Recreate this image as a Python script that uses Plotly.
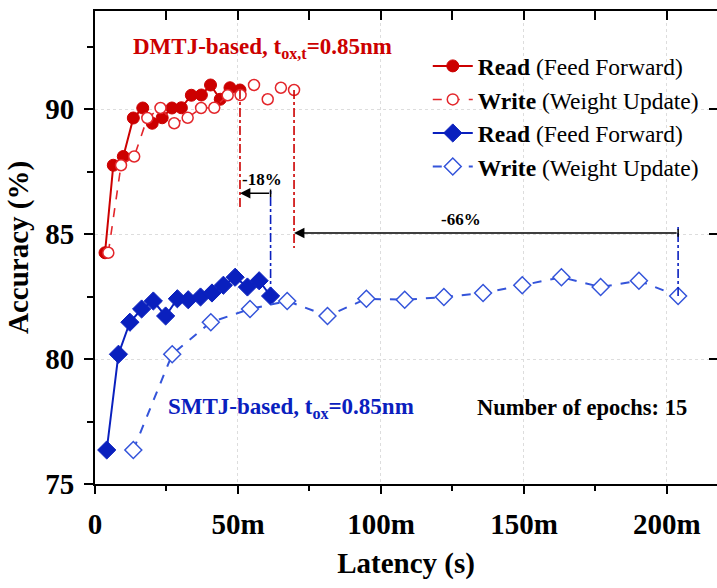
import plotly.graph_objects as go

# Accuracy per epoch (%), shared by read and write latency traces of the same device
dmtj_acc = [84.25, 87.75, 88.10, 89.64, 90.04, 89.43, 89.65, 90.04, 90.05, 90.55,
            90.56, 90.96, 90.39, 90.85, 90.76]
smtj_acc = [76.36, 80.19, 81.47, 82.00, 82.32, 81.72, 82.41, 82.37, 82.48, 82.64,
            82.95, 83.27, 82.88, 83.13, 82.52]

# Cumulative latency after each epoch (ms)
dmtj_read_lat = [3.5, 6.4, 9.9, 13.4, 16.7, 20.0, 23.5, 26.9, 30.2, 33.7,
                 37.2, 40.4, 43.8, 47.2, 50.7]
dmtj_write_lat = [4.65, 9.1, 13.7, 18.3, 22.9, 27.7, 32.4, 37.1, 41.7, 46.4,
                  50.9, 55.6, 60.4, 65.0, 69.6]
smtj_read_lat = [4.1, 8.2, 12.2, 16.3, 20.4, 24.7, 28.8, 32.6, 36.9, 40.9,
                 44.9, 49.0, 53.3, 57.4, 61.4]
smtj_write_lat = [13.4, 27.0, 40.5, 54.2, 67.2, 81.3, 94.9, 108.3, 122.0, 135.7,
                  149.4, 163.1, 176.8, 190.2, 203.9]

x_tickvals = [0, 50, 100, 150, 200]
x_ticktext = ["0", "50m", "100m", "150m", "200m"]
y_tickvals = [75, 80, 85, 90]

# Latency reduction labels
reduction_labels = ["-18%", "-66%"]

# Far ends of the dash-dot guides and heights of the comparison arrows
guide_end = {"dmtj_read": 86.0, "dmtj_write": 84.44, "smtj_read": 86.84, "smtj_write": 85.36}
arrow_y_read = 86.63
arrow_y_write = 85.04

RED = "#CC0000"
RED_W = "#E3262B"
BLUE = "#0A20BE"
BLUE_W = "#3454DA"
FONT = "Liberation Serif, Times New Roman, serif"

fig = go.Figure()

fig.add_trace(go.Scatter(
    x=dmtj_read_lat, y=dmtj_acc, mode="lines+markers",
    name="<b>Read</b> (Feed Forward)",
    line=dict(color=RED, width=2),
    marker=dict(symbol="circle", size=12, color=RED, line=dict(color=RED, width=1)),
))
fig.add_trace(go.Scatter(
    x=dmtj_write_lat, y=dmtj_acc, mode="lines+markers",
    name="<b>Write</b> (Weight Update)",
    line=dict(color=RED_W, width=1.6, dash="dash"),
    marker=dict(symbol="circle", size=11, color="white", line=dict(color=RED_W, width=1.5)),
))
fig.add_trace(go.Scatter(
    x=smtj_read_lat, y=smtj_acc, mode="lines+markers",
    name="<b>Read</b> (Feed Forward)",
    line=dict(color=BLUE, width=2),
    marker=dict(symbol="diamond", size=14, color=BLUE, line=dict(color=BLUE, width=1)),
))
fig.add_trace(go.Scatter(
    x=smtj_write_lat, y=smtj_acc, mode="lines+markers",
    name="<b>Write</b> (Weight Update)",
    line=dict(color=BLUE_W, width=2, dash="dash"),
    marker=dict(symbol="diamond", size=13, color="white", line=dict(color=BLUE_W, width=1.5)),
))

# Dash-dot guides dropped from the final epoch of each trace
guides = [
    (dmtj_read_lat[-1], dmtj_acc[-1], guide_end["dmtj_read"], RED),
    (dmtj_write_lat[-1], dmtj_acc[-1], guide_end["dmtj_write"], RED),
    (smtj_read_lat[-1], smtj_acc[-1], guide_end["smtj_read"], BLUE),
    (smtj_write_lat[-1], smtj_acc[-1], guide_end["smtj_write"], BLUE),
]
for gx, gy0, gy1, gc in guides:
    fig.add_trace(go.Scatter(
        x=[gx, gx], y=[gy0, gy1], mode="lines", showlegend=False, hoverinfo="skip",
        line=dict(color=gc, width=1.6, dash="dashdot"),
    ))

# Comparison arrows: SMTJ final latency -> DMTJ final latency
arrows = [
    (smtj_read_lat[-1], dmtj_read_lat[-1], arrow_y_read),
    (smtj_write_lat[-1], dmtj_write_lat[-1], arrow_y_write),
]
for tail, head, ay in arrows:
    fig.add_annotation(
        x=head, y=ay, ax=tail, ay=ay, xref="x", yref="y", axref="x", ayref="y",
        text="", showarrow=True, arrowhead=2, arrowsize=1.3, arrowwidth=1.6,
        arrowcolor="black",
    )
    fig.add_shape(type="line", x0=tail, x1=tail, y0=ay - 0.15, y1=ay + 0.15,
                  xref="x", yref="y", line=dict(color="black", width=1.5))

fig.add_annotation(x=58.5, y=87.2, text=f"<b>{reduction_labels[0]}</b>", showarrow=False,
                   font=dict(family=FONT, size=17, color="black"))
fig.add_annotation(x=128, y=85.6, text=f"<b>{reduction_labels[1]}</b>", showarrow=False,
                   font=dict(family=FONT, size=17, color="black"))

fig.add_annotation(x=58.7, y=92.45,
                   text="<b>DMTJ-based, t<sub>ox,t</sub>=0.85nm</b>", showarrow=False,
                   font=dict(family=FONT, size=23, color=RED))
fig.add_annotation(x=25.0, y=78.05, xanchor="left",
                   text="<b>SMTJ-based, t<sub>ox</sub>=0.85nm</b>", showarrow=False,
                   font=dict(family=FONT, size=23, color=BLUE))
fig.add_annotation(x=133, y=78.05, xanchor="left",
                   text="<b>Number of epochs: 15</b>", showarrow=False,
                   font=dict(family=FONT, size=22.5, color="black"))

axis_common = dict(showline=True, linecolor="black", linewidth=2, zeroline=False)

fig.update_layout(
    width=717, height=588,
    margin=dict(l=95, r=0, t=11, b=104),
    paper_bgcolor="white", plot_bgcolor="white",
    font=dict(family=FONT, color="black"),
    showlegend=True,
    legend=dict(x=0.535, y=0.93, xanchor="left", yanchor="top",
                bgcolor="rgba(0,0,0,0)", font=dict(family=FONT, size=23.5, color="black"),
                tracegroupgap=0, itemwidth=40),
    xaxis=dict(
        **axis_common, range=[0, 217.5],
        tickvals=x_tickvals, ticktext=x_ticktext,
        ticks="outside", ticklen=8, tickwidth=2, tickcolor="black",
        minor=dict(dtick=25, tick0=0, ticks="outside", ticklen=5, tickwidth=2,
                   tickcolor="black", showgrid=False),
        tickfont=dict(family=FONT, size=29, weight="bold"),
        ticklabelstandoff=5,
        showgrid=True, gridcolor="#dddddd", gridwidth=1, griddash="dot",
        title=dict(text="<b>Latency (s)</b>", font=dict(family=FONT, size=29), standoff=14),
    ),
    yaxis=dict(
        **axis_common, range=[75, 93.92],
        tickvals=y_tickvals,
        ticks="outside", ticklen=9, tickwidth=2, tickcolor="black",
        minor=dict(dtick=2.5, tick0=75, ticks="outside", ticklen=6, tickwidth=2,
                   tickcolor="black", showgrid=False),
        tickfont=dict(family=FONT, size=29, weight="bold"),
        ticklabelstandoff=4,
        showgrid=True, gridcolor="#dddddd", gridwidth=1, griddash="dot",
        title=dict(text="<b>Accuracy (%)</b>", font=dict(family=FONT, size=29), standoff=8),
    ),
    xaxis2=dict(
        overlaying="x", side="top", range=[0, 217.5], showline=True, linecolor="black",
        linewidth=2, zeroline=False, showgrid=False, showticklabels=False,
        tickvals=[25, 50, 75, 100, 125, 150, 175, 200], ticks="inside", ticklen=9,
        tickwidth=2, tickcolor="black",
    ),
    yaxis2=dict(
        overlaying="y", side="right", range=[75, 93.92], showline=True, linecolor="black",
        linewidth=2, zeroline=False, showgrid=False, showticklabels=False,
        tickvals=y_tickvals, ticks="inside", ticklen=8, tickwidth=2, tickcolor="black",
    ),
)

# Invisible carrier so the mirrored top/right axes are rendered
fig.add_trace(go.Scatter(x=[0], y=[75], xaxis="x2", yaxis="y2", mode="markers",
                         marker=dict(opacity=0), showlegend=False, hoverinfo="skip"))

fig.write_html("out.html")
